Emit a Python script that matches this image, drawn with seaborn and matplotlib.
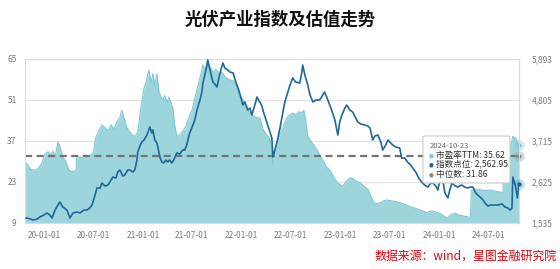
import numpy as np
import pandas as pd
import matplotlib
matplotlib.use("Agg")
import matplotlib.pyplot as plt
import matplotlib.dates as mdates
from matplotlib.patches import FancyBboxPatch
from matplotlib.ticker import FuncFormatter
import seaborn as sns

# ---------------- data ----------------
title = "光伏产业指数及估值走势"
source_note = "数据来源：wind，星图金融研究院"
series_names = ["市盈率TTM", "指数点位", "中位数"]

pe_dates = [
    "2019-10-23", "2019-11-03", "2019-11-14", "2019-11-29", "2019-12-10", "2019-12-25",
    "2020-01-05", "2020-01-16", "2020-01-27", "2020-02-03", "2020-02-11", "2020-02-22",
    "2020-02-29", "2020-03-11", "2020-03-22", "2020-04-02", "2020-04-14", "2020-04-29",
    "2020-04-30", "2020-05-13", "2020-06-01", "2020-06-19", "2020-07-01", "2020-07-12",
    "2020-07-23", "2020-08-02", "2020-08-14", "2020-08-25", "2020-09-05", "2020-09-16",
    "2020-09-27", "2020-10-08", "2020-10-15", "2020-10-26", "2020-11-03", "2020-11-18",
    "2020-12-02", "2020-12-13", "2020-12-24", "2021-01-05", "2021-01-12", "2021-01-23",
    "2021-01-31", "2021-02-07", "2021-02-14", "2021-02-22", "2021-03-01", "2021-03-09",
    "2021-03-16", "2021-03-23", "2021-03-31", "2021-04-07", "2021-04-15", "2021-04-22",
    "2021-04-29", "2021-05-07", "2021-05-18", "2021-05-29", "2021-06-09", "2021-06-20",
    "2021-07-02", "2021-07-13", "2021-07-24", "2021-08-04", "2021-08-11", "2021-08-18",
    "2021-08-26", "2021-09-06", "2021-09-17", "2021-09-28", "2021-10-09", "2021-10-20",
    "2021-10-31", "2021-11-15", "2021-12-01", "2021-12-11", "2021-12-22", "2022-01-02",
    "2022-01-13", "2022-01-24", "2022-02-08", "2022-02-23", "2022-03-10", "2022-03-21",
    "2022-04-01", "2022-04-16", "2022-04-23", "2022-04-27", "2022-05-04", "2022-05-15",
    "2022-05-26", "2022-06-06", "2022-06-17", "2022-06-29", "2022-07-09", "2022-07-20",
    "2022-08-01", "2022-08-12", "2022-08-19", "2022-08-26", "2022-09-03", "2022-09-14",
    "2022-09-25", "2022-10-06", "2022-10-17", "2022-10-28", "2022-11-12", "2022-11-27",
    "2022-12-08", "2022-12-19", "2022-12-30", "2023-01-10", "2023-01-21", "2023-02-01",
    "2023-02-12", "2023-02-23", "2023-03-07", "2023-03-18", "2023-03-29", "2023-04-13",
    "2023-04-24", "2023-05-05", "2023-05-16", "2023-05-27", "2023-06-11", "2023-06-22",
    "2023-07-07", "2023-07-22", "2023-08-05", "2023-08-20", "2023-09-04", "2023-09-19",
    "2023-10-04", "2023-10-19", "2023-11-02", "2023-11-17", "2023-12-02", "2023-12-17",
    "2024-01-01", "2024-01-16", "2024-01-31", "2024-02-15", "2024-03-01", "2024-03-16",
    "2024-03-31", "2024-04-14", "2024-04-26", "2024-04-30", "2024-05-14", "2024-06-01",
    "2024-06-19", "2024-07-08", "2024-07-26", "2024-08-14", "2024-08-25", "2024-08-30",
    "2024-09-05", "2024-09-12", "2024-09-20", "2024-09-27", "2024-09-30", "2024-10-10",
    "2024-10-17", "2024-10-23",
]
pe_values = [
    30.0, 28.5, 27.2, 27.0, 27.5, 29.5,
    32.5, 33.3, 32.0, 33.5, 31.5, 36.7,
    35.0, 31.5, 30.0, 27.0, 26.5, 26.8,
    31.0, 31.5, 31.0, 32.0, 33.0, 38.5,
    40.5, 42.4, 41.5, 40.5, 42.5, 41.0,
    43.5, 45.0, 47.5, 44.0, 41.5, 39.5,
    38.4, 40.0, 48.0, 55.0, 57.0, 61.2,
    57.0, 60.0, 56.0, 60.0, 54.0, 52.0,
    51.0, 52.5, 50.0, 52.0, 50.0, 48.0,
    42.0, 38.5, 39.0, 40.5, 42.0, 45.0,
    47.5, 52.0, 56.0, 60.0, 63.0, 61.0,
    64.0, 62.5, 60.5, 61.5, 60.0, 60.5,
    59.0, 58.0, 57.5, 56.0, 53.5, 51.6,
    50.0, 47.5, 45.8, 45.0, 44.8, 41.0,
    39.5, 37.5, 33.0, 29.0, 33.0, 37.0,
    40.0, 42.5, 44.8, 46.0, 46.5, 46.0,
    47.0, 46.5, 47.5, 44.0, 38.5, 37.0,
    35.5, 34.0, 32.2, 30.5, 28.0, 26.5,
    24.5, 23.0, 22.0, 21.5, 23.0, 24.0,
    24.3, 23.5, 23.0, 22.5, 21.5, 20.5,
    18.0, 16.0, 15.5, 15.8, 16.5, 16.8,
    16.5, 16.3, 16.0, 15.5, 15.0, 14.4,
    14.0, 13.5, 13.0, 12.5, 13.0, 12.8,
    12.3, 11.5, 10.6, 11.8, 12.3, 11.6,
    11.3, 11.0, 10.8, 20.0, 20.5, 20.3,
    20.0, 20.2, 19.8, 19.5, 19.3, 37.0,
    38.0, 36.5, 35.0, 37.0, 38.5, 38.0,
    36.5, 35.62,
]

idx_dates = [
    "2019-10-27", "2019-11-10", "2019-11-21", "2019-12-06", "2019-12-17", "2020-01-01",
    "2020-01-12", "2020-01-23", "2020-01-31", "2020-02-11", "2020-02-22", "2020-02-29",
    "2020-03-11", "2020-03-26", "2020-04-06", "2020-04-17", "2020-05-02", "2020-05-13",
    "2020-05-28", "2020-06-08", "2020-06-19", "2020-06-27", "2020-07-08", "2020-07-15",
    "2020-07-27", "2020-08-02", "2020-08-14", "2020-08-25", "2020-09-05", "2020-09-12",
    "2020-09-23", "2020-09-30", "2020-10-08", "2020-10-19", "2020-10-26", "2020-11-06",
    "2020-11-14", "2020-11-25", "2020-12-02", "2020-12-10", "2020-12-13", "2020-12-21",
    "2020-12-28", "2021-01-05", "2021-01-16", "2021-01-27", "2021-02-03", "2021-02-07",
    "2021-02-14", "2021-02-22", "2021-03-01", "2021-03-05", "2021-03-12", "2021-03-19",
    "2021-03-27", "2021-04-03", "2021-04-10", "2021-04-18", "2021-04-25", "2021-05-06",
    "2021-05-17", "2021-05-28", "2021-06-05", "2021-06-12", "2021-06-23", "2021-07-05",
    "2021-07-12", "2021-07-20", "2021-07-31", "2021-08-07", "2021-08-11", "2021-08-18",
    "2021-08-26", "2021-08-29", "2021-09-06", "2021-09-13", "2021-09-17", "2021-09-24",
    "2021-10-02", "2021-10-09", "2021-10-16", "2021-10-24", "2021-10-31", "2021-11-11",
    "2021-11-19", "2021-12-01", "2021-12-08", "2021-12-19", "2021-12-27", "2022-01-06",
    "2022-01-13", "2022-01-24", "2022-02-01", "2022-02-08", "2022-02-19", "2022-02-27",
    "2022-03-05", "2022-03-16", "2022-03-23", "2022-04-04", "2022-04-16", "2022-04-23",
    "2022-04-27", "2022-05-04", "2022-05-12", "2022-05-23", "2022-06-03", "2022-06-10",
    "2022-06-21", "2022-06-29", "2022-07-09", "2022-07-20", "2022-08-04", "2022-08-12",
    "2022-08-15", "2022-08-23", "2022-09-03", "2022-09-11", "2022-09-22", "2022-10-03",
    "2022-10-17", "2022-10-28", "2022-11-04", "2022-11-16", "2022-11-30", "2022-12-12",
    "2022-12-23", "2022-12-30", "2023-01-07", "2023-01-18", "2023-01-25", "2023-02-05",
    "2023-02-16", "2023-02-27", "2023-03-07", "2023-03-18", "2023-04-02", "2023-04-13",
    "2023-04-21", "2023-05-01", "2023-05-09", "2023-05-20", "2023-05-31", "2023-06-07",
    "2023-06-18", "2023-06-26", "2023-07-07", "2023-07-14", "2023-07-25", "2023-08-09",
    "2023-08-16", "2023-08-27", "2023-09-07", "2023-09-18", "2023-09-26", "2023-10-07",
    "2023-10-18", "2023-10-29", "2023-11-09", "2023-11-21", "2023-12-02", "2023-12-09",
    "2023-12-20", "2023-12-28", "2024-01-04", "2024-01-12", "2024-01-23", "2024-02-03",
    "2024-02-10", "2024-02-18", "2024-03-01", "2024-03-10", "2024-03-25", "2024-04-05",
    "2024-04-16", "2024-04-27", "2024-05-05", "2024-05-16", "2024-05-23", "2024-06-01",
    "2024-06-12", "2024-06-19", "2024-06-30", "2024-07-11", "2024-07-26", "2024-08-06",
    "2024-08-21", "2024-09-01", "2024-09-12", "2024-09-20", "2024-09-27", "2024-09-30",
    "2024-10-10", "2024-10-17", "2024-10-23",
]
idx_values = [
    1660, 1640, 1607, 1630, 1687, 1740,
    1793, 1740, 1660, 1870, 2006, 2086,
    1950, 1873, 1660, 1790, 1820, 1793,
    1873, 1873, 1930, 2006, 2270, 2459,
    2459, 2592, 2512, 2538, 2671, 2751,
    2724, 2884, 2938, 2778, 2804, 2938,
    2938, 2884, 2938, 3204, 3417, 3577,
    3683, 3736, 3870, 4082, 3922, 4002,
    3736, 3656, 3417, 3284, 3150, 3124,
    3204, 3150, 3204, 3124, 3204, 3390,
    3363, 3470, 3470, 3603, 3923, 4135,
    4269, 4535, 4801, 5014, 5253, 5466,
    5732, 5866, 5600, 5387, 5280, 5227,
    5147, 5387, 5600, 5786, 5652, 5600,
    5546, 5520, 5333, 5120, 4934, 4668,
    4748, 4535, 4588, 4402, 4668, 4881,
    4801, 4668, 4481, 4215, 3949, 3789,
    3284, 3470, 3683, 4055, 4481, 4748,
    5014, 5200, 5387, 5280, 5253, 5546,
    5732, 5466, 5200, 4934, 4748, 4801,
    4801, 4934, 5014, 4801, 4535, 4269,
    3870, 4215, 4402, 4588, 4668, 4535,
    4481, 4321, 4215, 4162, 4135, 4108,
    4055, 3736, 3843, 3870, 3683, 3470,
    3603, 3736, 3656, 3603, 3550, 3523,
    3257, 3257, 3150, 3071, 2991, 2884,
    2724, 2618, 2538, 2485, 2592, 2592,
    2512, 2406, 2671, 2804, 2325, 2193,
    2406, 2592, 2512, 2485, 2538, 2485,
    2459, 2485, 2485, 2325, 2272, 2219,
    2139, 2059, 1980, 2006, 2006, 2006,
    2033, 1953, 1926, 1873, 1926, 2751,
    2512, 2193, 2562.95,
]

median_pe = 31.86
tooltip_date = "2024-10-23"
last_pe = 35.62
last_idx = 2562.95

left_ticks = [9, 23, 37, 51, 65]
right_ticks = [1535, 2625, 3715, 4805, 5893]
x_ticks = ["2020-01-01", "2020-07-01", "2021-01-01", "2021-07-01", "2022-01-01",
           "2022-07-01", "2023-01-01", "2023-07-01", "2024-01-01", "2024-07-01"]

# ---------------- style ----------------
AREA = "#9dd5dc"
AREA_EDGE = "#82c9d3"
LINE = "#20679a"
MED = "#737373"
TICK = "#7a7a7a"
SPINE = "#dcdcdc"

sns.set_theme(style="white")
plt.rcParams["font.family"] = ["Noto Sans CJK SC", "DejaVu Sans"]
plt.rcParams["axes.unicode_minus"] = False

W, H = 560, 269
fig = plt.figure(figsize=(W / 100, H / 100), dpi=100)
fig.patch.set_facecolor("white")
ax = fig.add_axes([25 / W, 1 - 222.7 / H, 494 / W, 163.7 / H])

pe_df = pd.DataFrame({"date": pd.to_datetime(pe_dates), "pe": pe_values})
idx_df = pd.DataFrame({"date": pd.to_datetime(idx_dates), "idx": idx_values})

ax.fill_between(pe_df["date"], left_ticks[0], pe_df["pe"], color=AREA, lw=0, zorder=1)
sns.lineplot(data=pe_df, x="date", y="pe", ax=ax, color=AREA_EDGE, lw=0.8, zorder=2)
ax.axhline(median_pe, color=MED, lw=1.6, dashes=(3.2, 2.0), zorder=3)

x0 = pd.Timestamp(pe_dates[0])
x1 = pd.Timestamp(pe_dates[-1])
ax.set_xlim(x0, x1)
ax.set_ylim(left_ticks[0], left_ticks[-1])
ax.set_yticks(left_ticks)
ax.set_xticks(pd.to_datetime(x_ticks))
ax.xaxis.set_major_formatter(mdates.DateFormatter("%y-%m-%d"))
ax.grid(axis="y", color="#e4e4e4", lw=0.8)
ax.grid(axis="x", visible=False)
ax.set_axisbelow(True)
ax.set_xlabel("")
ax.set_ylabel("")
ax.tick_params(axis="x", length=2, width=0.6, color="#cccccc", labelsize=6,
               labelcolor=TICK, pad=4)
ax.tick_params(axis="y", length=0, labelsize=6, labelcolor=TICK, pad=6)
for s in ax.spines.values():
    s.set_color(SPINE)
    s.set_linewidth(0.8)

ax2 = ax.twinx()
sns.lineplot(data=idx_df, x="date", y="idx", ax=ax2, color=LINE, lw=1.2, zorder=4)
ax2.set_ylim(right_ticks[0], right_ticks[-1])
ax2.set_yticks(right_ticks)
ax2.yaxis.set_major_formatter(FuncFormatter(lambda v, p: f"{v:,.0f}"))
ax2.set_ylabel("")
ax2.set_xlabel("")
ax2.grid(False)
ax2.tick_params(axis="y", length=0, labelsize=6, labelcolor=TICK, pad=9)
for s in ax2.spines.values():
    s.set_color(SPINE)
    s.set_linewidth(0.8)

# end-point markers
xe = pd.Timestamp(tooltip_date)
ax2.scatter([xe], [last_idx], s=60, color=LINE, alpha=0.22, lw=0, zorder=6, clip_on=False)
ax2.scatter([xe], [last_idx], s=10, color=LINE, lw=0, zorder=7, clip_on=False)
ax.scatter([xe], [last_pe], s=60, color="#7cc8d2", alpha=0.35, lw=0, zorder=6, clip_on=False)
ax.scatter([xe], [last_pe], s=10, color="#7cc8d2", lw=0, zorder=7, clip_on=False)
ax.scatter([xe], [median_pe], s=60, color="#9a9a9a", alpha=0.35, lw=0, zorder=6, clip_on=False)
ax.scatter([xe], [median_pe], s=10, color="#8a8a8a", lw=0, zorder=7, clip_on=False)

# tooltip
box = FancyBboxPatch((423 / W, 1 - 183 / H), 87 / W, 47 / H,
                     boxstyle="round,pad=0,rounding_size=0.004",
                     transform=fig.transFigure, facecolor="white", alpha=0.92,
                     edgecolor="#c8c8c8", lw=0.8, zorder=20)
fig.patches.append(box)
fig.text(430 / W, 1 - 146.5 / H, tooltip_date, fontsize=5.5, color="#666666",
         va="center", ha="left", zorder=21)
rows = [(series_names[0], f"{last_pe:.2f}", "#7cc8d2"),
        (series_names[1], f"{last_idx:,.2f}", LINE),
        (series_names[2], f"{median_pe:.2f}", "#8a8a8a")]
for i, (name, val, col) in enumerate(rows):
    yy = 1 - (155.5 + i * 9.5) / H
    fig.text(431 / W, yy, "●", fontsize=4, color=col, va="center", ha="center",
             family=["DejaVu Sans"], zorder=21)
    fig.text(435.5 / W, yy, f"{name}: {val}", fontsize=6.2, color="#333333",
             va="center", ha="left", zorder=21)

# title and source
fig.text(0.5, 1 - 20 / H, title, fontsize=12.5, fontweight="bold",
         color="#111111", ha="center", va="center")
fig.text(557 / W, 1 - 256 / H, source_note, fontsize=8.6, color="#e8000b",
         style="italic", ha="right", va="center")

fig.savefig("out.png", dpi=100, facecolor="white")
